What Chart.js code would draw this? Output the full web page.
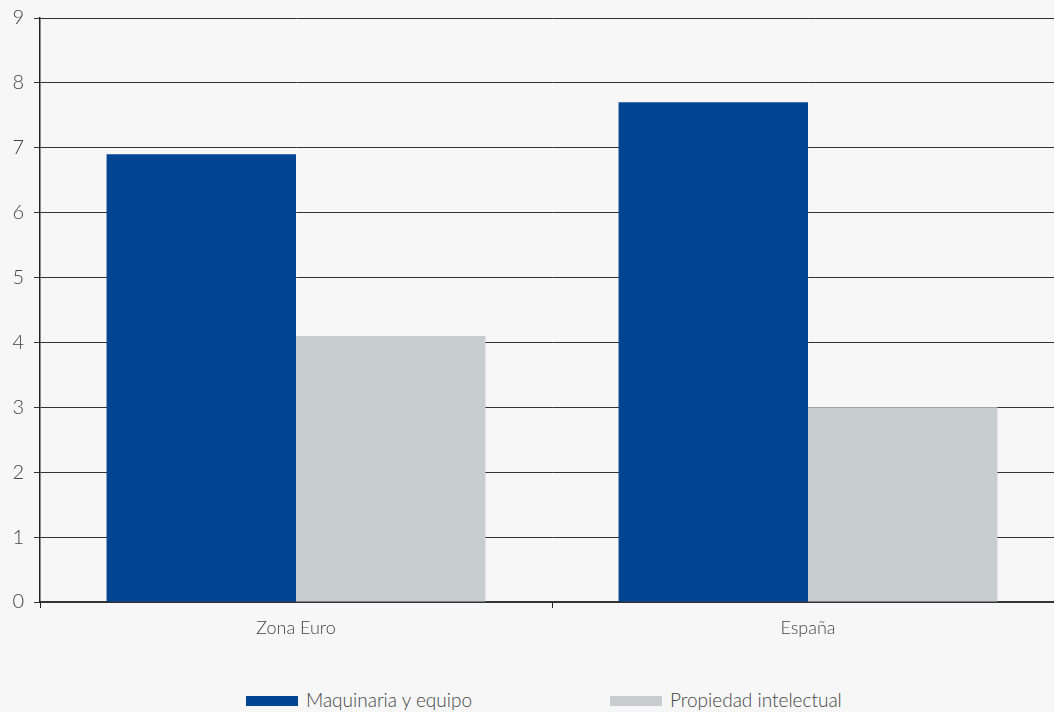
<!DOCTYPE html>
<html>
<head>
<meta charset="utf-8">
<script src="https://cdn.jsdelivr.net/npm/chart.js@4/dist/chart.umd.min.js"></script>
<style>
  html, body { margin: 0; padding: 0; background: #f7f7f7; overflow: hidden; }
  #wrap { width: 1064px; height: 650px; position: relative; }
  #legend { position: absolute; top: 688px; left: 0; width: 1054px; height: 24px;
            font-family: Lato, 'Open Sans', sans-serif; font-weight: 300; font-size: 19px; color: #444; }
  .item { position: absolute; top: 0; height: 24px; line-height: 24px; white-space: nowrap; }
  .swatch { display: inline-block; width: 52px; height: 10px; vertical-align: middle; margin-right: 8px; position: relative; top: -1px; }
</style>
</head>
<body>
<div id="wrap"><canvas id="investChart"></canvas></div>
<div id="legend"></div>
<script>
const categories = ["Zona Euro", "España"];
const maquinaria = [6.9, 7.7];
const propiedad = [4.1, 3.0];
const yTicks = [0, 1, 2, 3, 4, 5, 6, 7, 8, 9];
const seriesNames = ["Maquinaria y equipo", "Propiedad intelectual"];
const seriesColors = ["#004494", "#c8cdd0"];

const textColor = "#444";
const fontFamily = "Lato, 'Open Sans', sans-serif";

const context = document.getElementById("investChart").getContext("2d");
const chart = new Chart(context, {
  type: "bar",
  data: {
    labels: categories,
    datasets: [{
      label: seriesNames[0],
      data: maquinaria,
      backgroundColor: seriesColors[0],
      barPercentage: 1,
      categoryPercentage: 0.74
    }, {
      label: seriesNames[1],
      data: propiedad,
      backgroundColor: seriesColors[1],
      barPercentage: 1,
      categoryPercentage: 0.74
    }]
  },
  options: {
    responsive: true,
    maintainAspectRatio: false,
    animation: false,
    layout: { padding: { top: 18, right: 0, left: 0, bottom: 0 } },
    plugins: {
      legend: { display: false },
      tooltip: { enabled: false }
    },
    scales: {
      x: {
        grid: {
          drawOnChartArea: false,
          drawTicks: true,
          tickLength: 6,
          color: "#222"
        },
        border: { color: "#333", width: 2 },
        ticks: {
          color: textColor,
          padding: 9,
          font: { family: fontFamily, size: 18, weight: 300 }
        },
        afterFit: function(scale) { scale.height = 48; }
      },
      y: {
        min: 0,
        max: 9,
        afterBuildTicks: function(scale) {
          scale.ticks = yTicks.map(v => ({ value: v }));
        },
        grid: {
          color: "#333",
          lineWidth: 1,
          tickLength: 6
        },
        border: { color: "#222", width: 1.5 },
        ticks: {
          color: textColor,
          padding: 10,
          font: { family: fontFamily, size: 20, weight: 300 }
        },
        afterFit: function(scale) {
          scale.width = 40;
          scale.paddingTop = 0;
          scale.paddingBottom = 0;
        }
      }
    }
  }
});

// legend drawn as html so the two items can sit far apart
const legendLeft = [246, 610];
const legend = document.getElementById("legend");
seriesNames.forEach(function(name, i) {
  const item = document.createElement("div");
  item.className = "item";
  item.style.left = legendLeft[i] + "px";
  item.innerHTML = '<span class="swatch" style="background:' + seriesColors[i] + '"></span>' + name;
  legend.appendChild(item);
});
</script>
</body>
</html>
